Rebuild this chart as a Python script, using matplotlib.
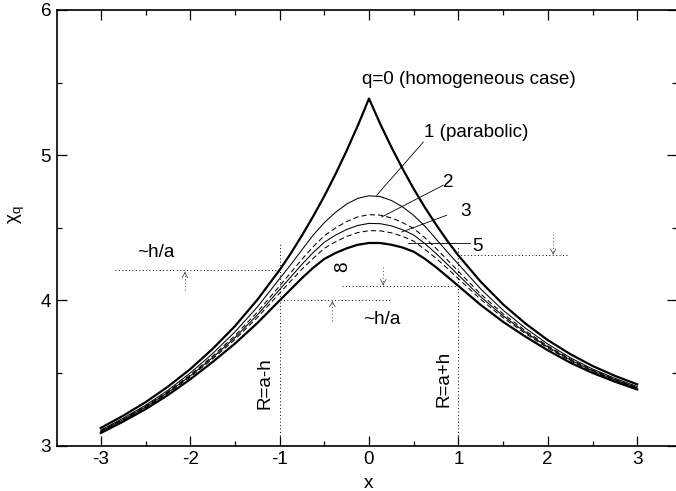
import matplotlib
matplotlib.use("Agg")
import matplotlib.pyplot as plt
from matplotlib.ticker import MultipleLocator

plt.rcParams['font.family'] = ['Liberation Sans', 'DejaVu Sans']
plt.rcParams['mathtext.fontset'] = 'custom'
plt.rcParams['mathtext.rm'] = 'Liberation Sans'
plt.rcParams['mathtext.it'] = 'Liberation Sans'
plt.rcParams['mathtext.sf'] = 'Liberation Sans'

# ---- data ----
x = [-3.0, -2.75, -2.5, -2.25, -2.0, -1.75, -1.5, -1.25, -1.0,
     -0.875, -0.75, -0.625, -0.5, -0.375, -0.25, -0.125, 0.0,
     0.125, 0.25, 0.375, 0.5, 0.625, 0.75, 0.875,
     1.0, 1.25, 1.5, 1.75, 2.0, 2.25, 2.5, 2.75, 3.0]
chi_q0 = [3.121, 3.205, 3.298, 3.405, 3.526, 3.665, 3.822, 4.003, 4.209,
          4.323, 4.447, 4.578, 4.718, 4.869, 5.031, 5.204, 5.390,
          5.216, 5.056, 4.907, 4.768, 4.640, 4.522, 4.411,
          4.309, 4.128, 3.972, 3.840, 3.726, 3.630, 3.548, 3.480, 3.421]
chi_q1 = [3.106, 3.188, 3.277, 3.380, 3.499, 3.633, 3.782, 3.953, 4.149,
          4.246, 4.348, 4.449, 4.535, 4.606, 4.663, 4.703, 4.720,
          4.715, 4.688, 4.644, 4.585, 4.511, 4.423, 4.334,
          4.249, 4.078, 3.932, 3.808, 3.699, 3.605, 3.527, 3.463, 3.406]
chi_q2 = [3.101, 3.182, 3.270, 3.371, 3.486, 3.615, 3.757, 3.918, 4.099,
          4.191, 4.283, 4.369, 4.445, 4.498, 4.543, 4.575, 4.590,
          4.587, 4.568, 4.536, 4.495, 4.431, 4.358, 4.279,
          4.199, 4.043, 3.907, 3.790, 3.686, 3.596, 3.520, 3.457, 3.401]
chi_q3 = [3.097, 3.178, 3.265, 3.365, 3.479, 3.605, 3.743, 3.899, 4.074,
          4.161, 4.248, 4.329, 4.400, 4.449, 4.488, 4.516, 4.530,
          4.528, 4.513, 4.487, 4.450, 4.391, 4.323, 4.249,
          4.174, 4.024, 3.893, 3.780, 3.679, 3.590, 3.515, 3.453, 3.397]
chi_q5 = [3.093, 3.173, 3.260, 3.359, 3.472, 3.596, 3.730, 3.881, 4.049,
          4.133, 4.215, 4.289, 4.358, 4.403, 4.440, 4.467, 4.480,
          4.479, 4.465, 4.441, 4.408, 4.351, 4.290, 4.221,
          4.149, 4.006, 3.880, 3.771, 3.672, 3.584, 3.510, 3.448, 3.393]
chi_qinf = [3.086, 3.165, 3.250, 3.347, 3.456, 3.575, 3.702, 3.843, 3.999,
            4.076, 4.153, 4.224, 4.285, 4.326, 4.358, 4.383, 4.395,
            4.395, 4.383, 4.364, 4.335, 4.286, 4.228, 4.164,
            4.099, 3.968, 3.852, 3.750, 3.656, 3.571, 3.500, 3.440, 3.386]

xticks = [-3, -2, -1, 0, 1, 2, 3]
yticks = [3, 4, 5, 6]

# curve labels: (text, text x, text y, leader start, leader end)
curve_labels = [
    ("q=0 (homogeneous case)", -0.08, 5.52, None, None),
    ("1 (parabolic)", 0.62, 5.155, (0.607, 5.09), (0.086, 4.724)),
    ("2", 0.83, 4.81, (0.831, 4.793), (0.142, 4.574)),
    ("3", 1.02, 4.61, (0.869, 4.586), (0.366, 4.471)),
    ("5", 1.16, 4.37, (1.13, 4.392), (0.44, 4.392)),
]

# dotted reference lines (y, x0, x1)
hlines = [(4.21, -2.84, -1.0), (4.00, -1.0, 0.25), (4.10, -0.305, 1.0), (4.31, 0.98, 2.23)]
vlines = [(-1.0, 3.0, 4.40), (1.0, 3.0, 4.37)]
# small arrows (x, y_start, y_tip)
arrows = [(-2.06, 4.07, 4.195), (0.16, 4.23, 4.105), (-0.41, 3.86, 3.995), (2.06, 4.46, 4.315)]

# ---- figure ----
W, H = 676, 491
fig = plt.figure(figsize=(W / 100, H / 100), dpi=100)
left_px, right_px, top_px, bot_px = 56.7, 677.0, 10.0, 445.5
ax = fig.add_axes([left_px / W, (H - bot_px) / H, (right_px - left_px) / W, (bot_px - top_px) / H])

ax.plot(x, chi_q0, color='black', lw=1.6)
ax.plot(x, chi_q1, color='black', lw=0.75)
ax.plot(x, chi_q2, color='black', lw=0.75, linestyle=(0, (5, 3)))
ax.plot(x, chi_q3, color='black', lw=0.75)
ax.plot(x, chi_q5, color='black', lw=0.75, linestyle=(0, (5, 3)))
ax.plot(x, chi_qinf, color='black', lw=1.6)

dot = (0, (1, 2.5))
for yv, x0, x1 in hlines:
    ax.plot([x0, x1], [yv, yv], color='black', lw=0.7, linestyle=dot)
for xv, y0, y1 in vlines:
    ax.plot([xv, xv], [y0, y1], color='black', lw=0.7, linestyle=dot)
for xa, ys, yt in arrows:
    ax.plot([xa, xa], [ys, yt], color='0.3', lw=0.7, linestyle=dot)
    d = 0.01 if yt > ys else -0.01
    ax.annotate('', xy=(xa, yt), xytext=(xa, yt - d),
                arrowprops=dict(arrowstyle='->,head_length=0.35,head_width=0.2',
                                lw=0.6, color='0.3', shrinkA=0, shrinkB=0, mutation_scale=10))

fs = 13.6
for txt, tx, ty, p0, p1 in curve_labels:
    ax.text(tx, ty, txt, fontsize=fs, ha='left', va='center')
    if p0 is not None:
        ax.plot([p0[0], p1[0]], [p0[1], p1[1]], color='black', lw=0.6)

ax.text(-2.38, 4.33, "~h/a", fontsize=fs, ha='center', va='center')
ax.text(0.14, 3.87, "~h/a", fontsize=fs, ha='center', va='center')
ax.text(-0.29, 4.235, "8", fontsize=fs, ha='center', va='center', rotation=90)
ax.text(-1.16, 3.43, "R=a-h", fontsize=fs, ha='center', va='center', rotation=90)
ax.text(0.84, 3.46, "R=a+h", fontsize=fs, ha='center', va='center', rotation=90)

ax.set_xlim((left_px - 369.0) / 89.4, (right_px - 369.0) / 89.4)
ax.set_ylim(3, 6)
ax.set_xticks(xticks)
ax.set_xticklabels([str(v) for v in xticks])
ax.set_yticks(yticks)
ax.set_yticklabels([str(v) for v in yticks])
ax.xaxis.set_minor_locator(MultipleLocator(0.5))
ax.yaxis.set_minor_locator(MultipleLocator(0.5))
ax.tick_params(which='both', direction='in', top=True, right=True, labelsize=fs, width=0.9)
ax.tick_params(which='major', length=7.2, pad=4)
ax.tick_params(which='minor', length=3.6)
for s in ax.spines.values():
    s.set_linewidth(1.2)

fig.text(369 / W, 1 - 483 / H, 'x', fontsize=fs, ha='center', va='center')
fig.text(17 / W, 1 - 215 / H, r'$\mathregular{\chi_q}$', fontsize=fs, ha='center', va='center', rotation=90)

fig.savefig('out.png', dpi=100)
